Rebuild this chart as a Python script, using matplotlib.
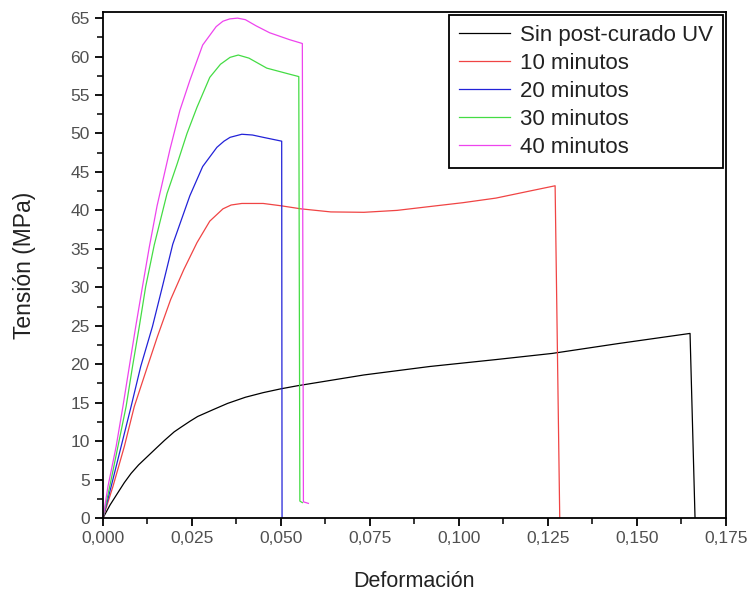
import matplotlib
matplotlib.use("Agg")
import matplotlib.pyplot as plt
from matplotlib.ticker import MultipleLocator, FuncFormatter

# curve data (strain, stress in MPa)
sin_x = [0, 0.002, 0.0042, 0.006, 0.0079, 0.010, 0.0125, 0.015, 0.0173, 0.020,
         0.0219, 0.0245, 0.0266, 0.031, 0.035, 0.040, 0.045, 0.050,
         0.0547, 0.0733, 0.0918, 0.1104, 0.1262, 0.145, 0.1649, 0.1663]
sin_y = [0, 1.7, 3.3, 4.6, 5.8, 6.9, 8.0, 9.1, 10.1, 11.2,
         11.8, 12.6, 13.2, 14.1, 14.9, 15.7, 16.3, 16.8,
         17.2, 18.6, 19.7, 20.6, 21.4, 22.7, 24.0, 0]

m10_x = [0, 0.0028, 0.006, 0.0088, 0.0125, 0.0153, 0.019, 0.0227, 0.0264, 0.030,
         0.0337, 0.036, 0.039, 0.045, 0.050, 0.0556, 0.064, 0.0733, 0.0826, 0.0918,
         0.1011, 0.1104, 0.1197, 0.1270, 0.1283]
m10_y = [0, 4.1, 9.3, 14.5, 19.7, 23.6, 28.4, 32.3, 35.8, 38.6,
         40.2, 40.7, 40.9, 40.9, 40.6, 40.2, 39.8, 39.75, 40.0, 40.5,
         41.0, 41.6, 42.5, 43.2, 0]

m20_x = [0, 0.0023, 0.0051, 0.0079, 0.0106, 0.0139, 0.0167, 0.0196, 0.0244, 0.028,
         0.032, 0.034, 0.0357, 0.039, 0.042, 0.045, 0.0502, 0.0503]
m20_y = [0, 4.1, 9.3, 14.5, 19.7, 24.9, 30.1, 35.6, 41.9, 45.7,
         48.2, 49.0, 49.5, 49.9, 49.8, 49.5, 49.0, 0]

m30_x = [0, 0.0019, 0.0042, 0.0065, 0.0083, 0.0102, 0.012, 0.0144, 0.018, 0.0208,
         0.0236, 0.0264, 0.030, 0.033, 0.0357, 0.038, 0.041, 0.046, 0.0525, 0.0550,
         0.0553, 0.0560]
m30_y = [0, 4.1, 9.3, 14.5, 19.7, 24.9, 30.1, 35.5, 42.2, 46.0,
         50.0, 53.4, 57.3, 59.0, 59.9, 60.2, 59.8, 58.5, 57.7, 57.4,
         2.2, 2.0]

m40_x = [0, 0.0014, 0.0037, 0.0056, 0.0074, 0.0092, 0.0111, 0.013, 0.0152, 0.0188,
         0.0216, 0.0244, 0.028, 0.0318, 0.0337, 0.0356, 0.0378, 0.040, 0.043, 0.0468,
         0.0524, 0.0560, 0.0563, 0.0577]
m40_y = [0, 4.1, 9.3, 14.5, 19.7, 24.9, 30.1, 35.2, 40.6, 47.9,
         53.0, 56.9, 61.5, 63.9, 64.6, 64.9, 65.0, 64.8, 64.0, 63.1,
         62.2, 61.7, 2.1, 1.9]

labels = ["Sin post-curado UV", "10 minutos", "20 minutos", "30 minutos", "40 minutos"]
colors = ["#000000", "#f04444", "#2222d8", "#44dc44", "#ee44ee"]

plt.rcParams['font.family'] = ['Liberation Sans', 'DejaVu Sans']

fig = plt.figure(figsize=(7.5, 5.93), dpi=100)
ax = fig.add_axes([0.1373, 0.1265, 0.8307, 0.8533])

series = [(sin_x, sin_y), (m10_x, m10_y), (m20_x, m20_y), (m30_x, m30_y), (m40_x, m40_y)]
for (xs, ys), lab, col in zip(series, labels, colors):
    ax.plot(xs, ys, color=col, lw=0.9, label=lab)

ax.set_xlim(0, 0.175)
ax.set_ylim(0, 65.8)
ax.xaxis.set_major_locator(MultipleLocator(0.025))
ax.xaxis.set_minor_locator(MultipleLocator(0.0125))
ax.yaxis.set_major_locator(MultipleLocator(5))
ax.yaxis.set_minor_locator(MultipleLocator(2.5))
ax.xaxis.set_major_formatter(FuncFormatter(lambda v, p: f"{v:.3f}".replace(".", ",")))
ax.yaxis.set_major_formatter(FuncFormatter(lambda v, p: f"{v:.0f}"))

for s in ax.spines.values():
    s.set_linewidth(1.3)
ax.tick_params(which='major', direction='out', length=6, width=1.3,
               labelsize=12.5, labelcolor='#505050')
ax.tick_params(which='minor', direction='out', length=4, width=1.1)

ax.set_xlabel("Deformación", fontsize=15.5, color='#222222', labelpad=18)
ax.set_ylabel("Tensión (MPa)", fontsize=16.5, color='#222222', labelpad=25)

leg = ax.legend(loc='upper right', bbox_to_anchor=(0.995, 0.995), fontsize=16,
                fancybox=False, edgecolor='black', framealpha=1,
                handlelength=2.3, handletextpad=0.45, labelspacing=0.32,
                borderpad=0.45, borderaxespad=0)
leg.get_frame().set_linewidth(1.3)
for t in leg.get_texts():
    t.set_color('#222222')

fig.savefig("out.png", dpi=100)
